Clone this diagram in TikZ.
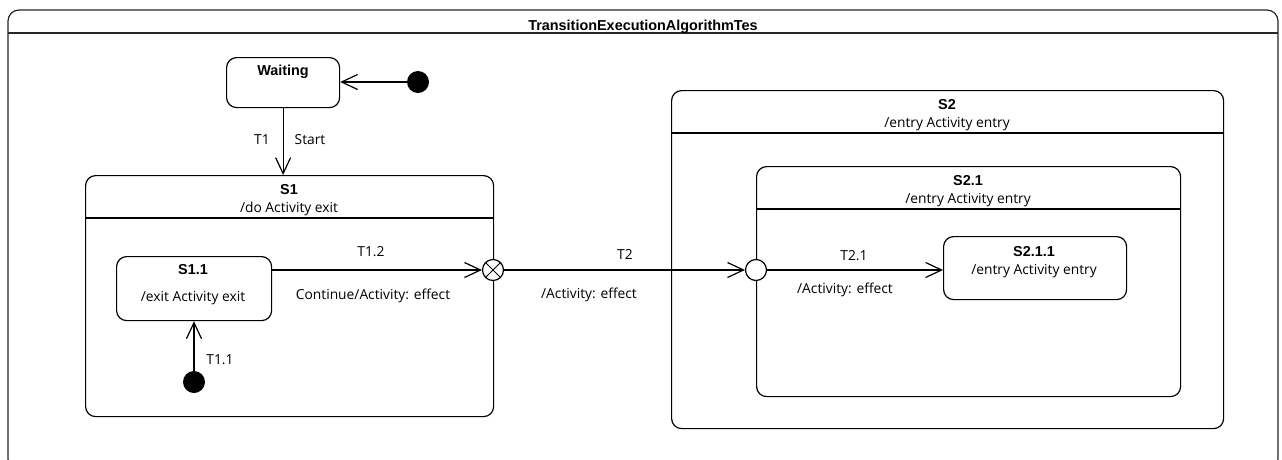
\documentclass[tikz,border=0pt]{standalone}
\usepackage{fontspec}
\setmainfont{Open Sans}
\newfontfamily\headfont{Liberation Sans}
\usetikzlibrary{arrows.meta,positioning}
\tikzset{
  frameln/.style={line width=1.2pt, draw=black!85},
  statebox/.style={draw, line width=1.2pt, rounded corners=10pt, inner sep=0pt, anchor=north west},
  trans/.style={-{Straight Barb[length=16pt,width=15pt,line width=1.2pt]}, line width=1.2pt},
  initdot/.style={circle, fill, inner sep=0pt, minimum size=22pt},
  ptcirc/.style={circle, draw, fill=white, line width=1.2pt, inner sep=0pt, minimum size=21pt},
  hdr/.style={font=\headfont\bfseries\fontsize{14.4}{16}\selectfont, inner sep=0pt},
  lbl/.style={font=\fontsize{13.8}{16}\selectfont, inner sep=0pt},
}

\begin{document}
\begin{tikzpicture}[x=1pt,y=-1pt]
    \useasboundingbox (0,0) rectangle (1282,459);
    % outer frame
    \draw[frameln, rounded corners=11pt] (8,10) rectangle (1278,470);
    \coordinate (framehdr) at (0,33);
    \draw[frameln] (8,33) -- (1278,33);
    \node[hdr, anchor=base] (title) at (643,30) {TransitionExecutionAlgorithmTes};
    % Waiting
    \node[statebox, minimum width=113pt, minimum height=50pt] (waiting) at (226,57) {};
    \node[hdr] (waitingname) at (283,72) {Waiting};
    \node[initdot] (init) at (418,82) {};
    \draw[trans] (init) -- (waiting.east |- init);
    % S1
    \node[statebox, minimum width=408pt, minimum height=241pt] (S1) at (85,175) {};
    \node[hdr] (S1name) at (289,190) {S1};
    \node[lbl] (S1do) at (289,209) {/do Activity exit};
    \coordinate (S1hdr) at (0,218);
    \draw[line width=1.2pt] (S1.west |- S1hdr) -- (S1.east |- S1hdr);
    \draw[trans] (waiting.south) -- (S1.north -| waiting.south);
    \node[lbl] (T1) at (262,140) {T1};
    \node[lbl] (T1trig) at (310,140) {Start};
    % S1.1
    \node[statebox, minimum width=155pt, minimum height=64pt] (S11) at (116,256) {};
    \node[hdr] (S11name) at (193,270) {S1.1};
    \node[lbl] (S11exit) at (193,298) {/exit Activity exit};
    \node[initdot] (init1) at (194,382) {};
    \draw[trans] (init1) -- (S11.south -| init1);
    \node[lbl] (T11) at (220,360) {T1.1};
    % S2
    \node[statebox, minimum width=552pt, minimum height=338pt] (S2) at (671,90) {};
    \node[hdr] (S2name) at (947,105) {S2};
    \node[lbl] (S2entry) at (947,124) {/entry Activity entry};
    \coordinate (S2hdr) at (0,133);
    \draw[line width=1.2pt] (S2.west |- S2hdr) -- (S2.east |- S2hdr);
    % S2.1
    \node[statebox, minimum width=424pt, minimum height=230pt] (S21) at (756,166) {};
    \node[hdr] (S21name) at (968,181) {S2.1};
    \node[lbl] (S21entry) at (968,200) {/entry Activity entry};
    \coordinate (S21hdr) at (0,209);
    \draw[line width=1.2pt] (S21.west |- S21hdr) -- (S21.east |- S21hdr);
    % S2.1.1
    \node[statebox, minimum width=183pt, minimum height=63pt] (S211) at (943,236) {};
    \node[hdr] (S211name) at (1034,252) {S2.1.1};
    \node[lbl] (S211entry) at (1034,271) {/entry Activity entry};
    % exit and entry points
    \node[ptcirc] (exitpt) at (493,270) {};
    \draw[line width=1pt] (exitpt.north west) -- (exitpt.south east)
      (exitpt.north east) -- (exitpt.south west);
    \node[ptcirc] (entrypt) at (756,270) {};
    % transitions
    \draw[trans] (S11.east |- exitpt) -- (exitpt);
    \node[lbl] (T12) at (371,252) {T1.2};
    \node[lbl] (T12eff) at (373,296) {Continue/Activity: effect};
    \draw[trans] (exitpt) -- (entrypt);
    \node[lbl] (T2) at (625,254) {T2};
    \node[lbl] (T2eff) at (589,295) {/Activity: effect};
    \draw[trans] (entrypt) -- (S211.west |- entrypt);
    \node[lbl] (T21) at (854,256) {T2.1};
    \node[lbl] (T21eff) at (845,290) {/Activity: effect};
\end{tikzpicture}
\end{document}
